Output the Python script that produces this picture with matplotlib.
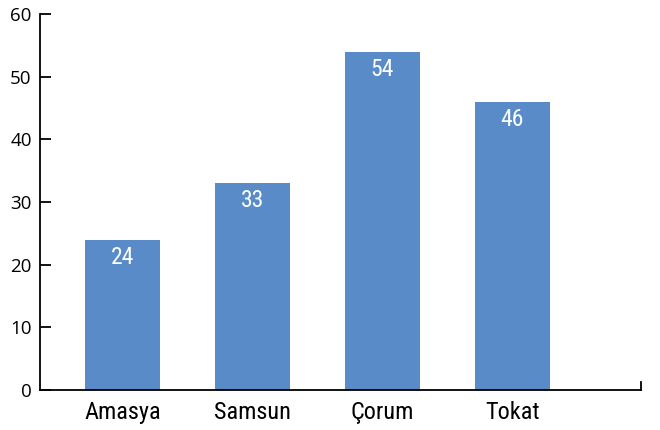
import matplotlib
matplotlib.use("Agg")
import matplotlib.pyplot as plt
from matplotlib import font_manager

categories = ["Amasya", "Samsun", "Çorum", "Tokat"]
values = [24, 33, 54, 46]
yticks = [0, 10, 20, 30, 40, 50, 60]

names = {f.name for f in font_manager.fontManager.ttflist}
cands = [n for n in ["Roboto Condensed", "DejaVu Sans Condensed", "Liberation Sans Narrow",
                     "Open Sans Condensed", "Noto Sans Condensed", "Roboto"] if n in names]
narrow = cands[0] if cands else "DejaVu Sans"
stretch = "condensed"

fig = plt.figure(figsize=(6.6, 4.3), dpi=100)
ax = fig.add_axes([40/660, 40/430, 601/660, 376/430])

x = list(range(len(categories)))
ax.bar(x, values, width=0.577, color="#588BC8", zorder=2)
for xi, v in zip(x, values):
    ax.text(xi, v - 1.0, str(v), ha="center", va="top", color="white",
            fontsize=17, family=[narrow, "DejaVu Sans"], fontstretch=stretch)

ax.set_xlim(-0.635, 3.99)
ax.set_ylim(0, 60)
ax.set_yticks(yticks)
ax.set_yticklabels([str(t) for t in yticks], fontsize=13.5, family=["Open Sans", "DejaVu Sans"])
ax.tick_params(axis="y", direction="in", length=8, width=1.3, pad=6)
ax.set_xticks(x)
ax.set_xticklabels(categories, fontsize=17.5, family=[narrow, "DejaVu Sans"], fontstretch=stretch)
ax.tick_params(axis="x", length=0, pad=8)

for s in ["top", "right"]:
    ax.spines[s].set_visible(False)
for s in ["left", "bottom"]:
    ax.spines[s].set_linewidth(1.3)
ax.plot([1, 1], [0, 0.022], transform=ax.transAxes, color="black", lw=1.3, clip_on=False)

fig.savefig("out.png", dpi=100)
